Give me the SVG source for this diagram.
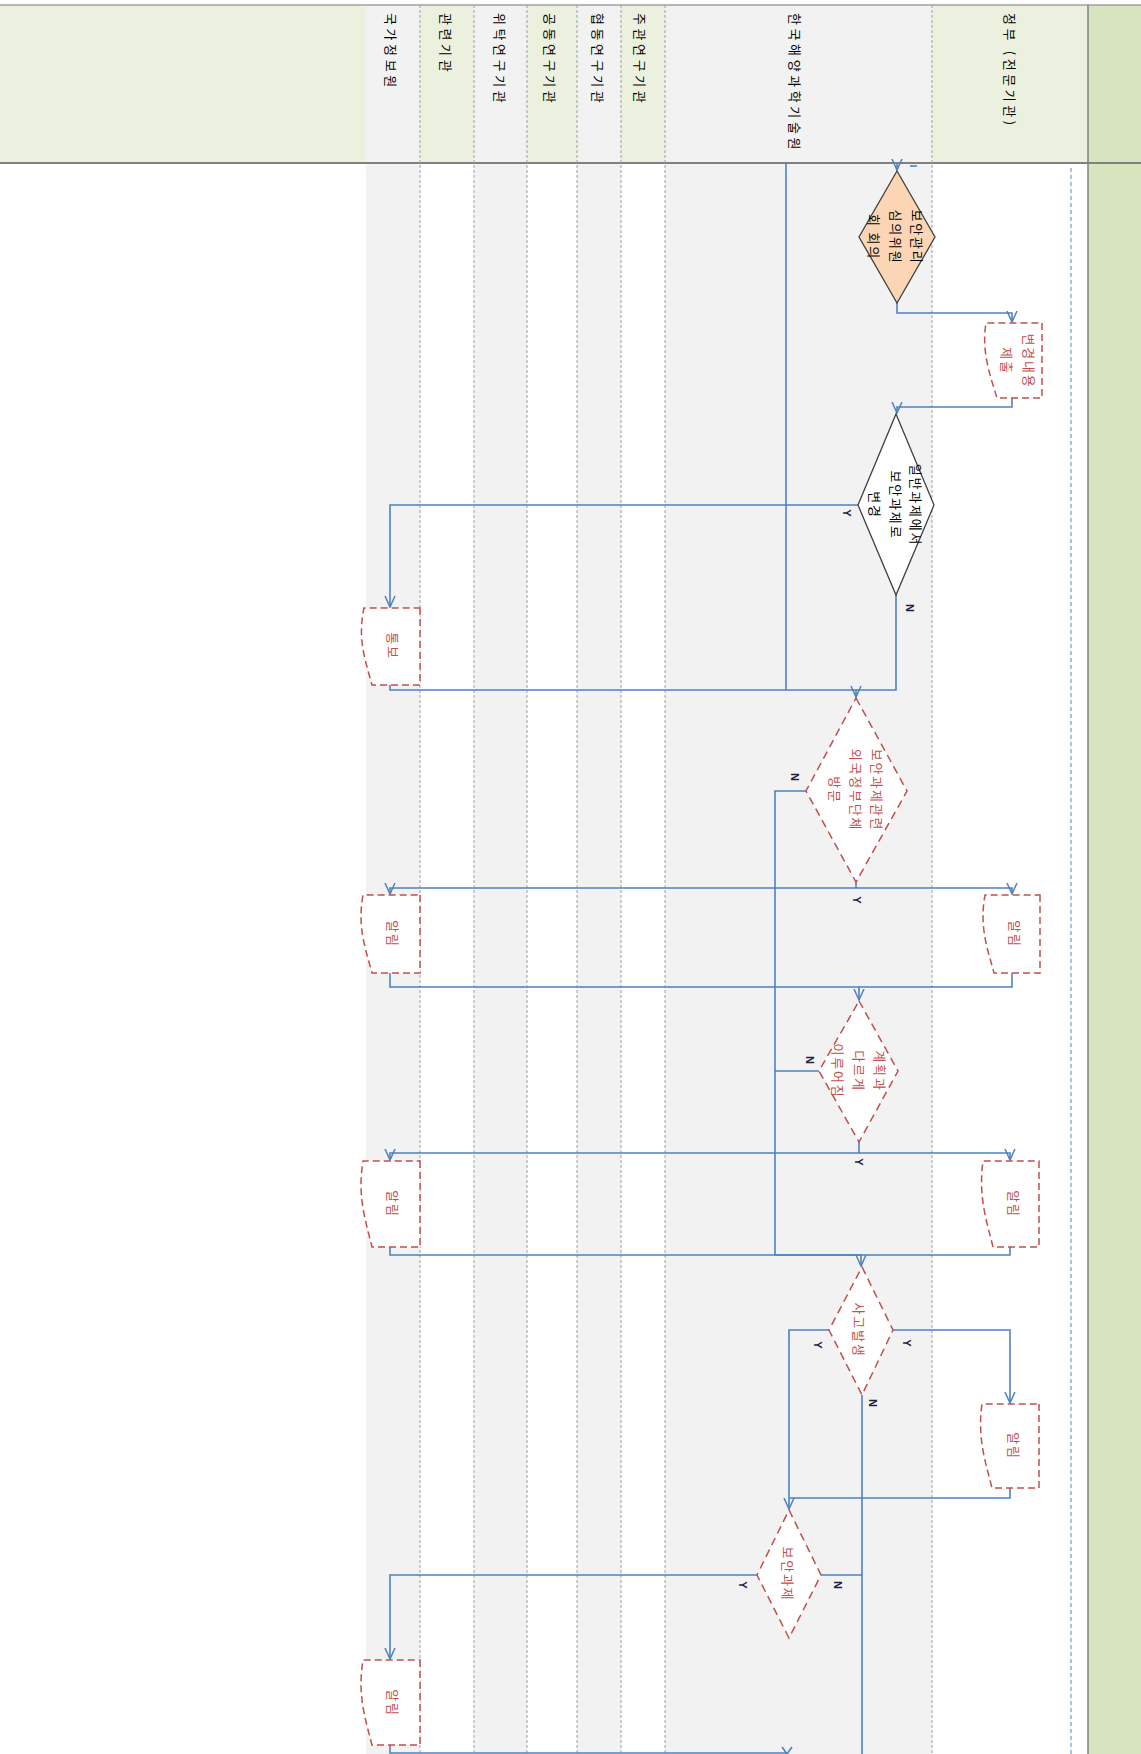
<svg xmlns="http://www.w3.org/2000/svg" width="1141" height="1754" viewBox="0 0 1141 1754">
<defs>
<style>
.lbl{font-family:"Noto Sans CJK KR","Noto Sans",sans-serif;font-size:13px;fill:#000;letter-spacing:3.6px}
.nt{font-family:"Noto Sans CJK KR","Noto Sans",sans-serif;font-size:13px;fill:#000;letter-spacing:1.8px}
.rt{font-family:"Noto Sans CJK KR","Noto Sans",sans-serif;font-size:13px;fill:#c0504d;letter-spacing:1.8px}
.yn{font-family:"Liberation Sans","DejaVu Sans",sans-serif;font-size:11px;font-weight:bold;fill:#1f1f3f}
.lane{stroke:#a0a0a0;stroke-width:1;stroke-dasharray:3,2;fill:none}
.con{fill:none;stroke:#4f81bd;stroke-width:1.6}
.rbox{fill:#fff;stroke:#c0504d;stroke-width:1.5;stroke-dasharray:7,4}
.rdia{fill:#fff;stroke:#c0504d;stroke-width:1.5;stroke-dasharray:8,5}
</style>
<marker id="ar" viewBox="0 0 12 12" refX="11" refY="6" markerWidth="12" markerHeight="12" markerUnits="userSpaceOnUse" orient="auto">
<path d="M0,1 L11,6 L0,11" fill="none" stroke="#4f81bd" stroke-width="1.5"/>
</marker>
</defs>

<g id="background">
<rect x="0" y="0" width="1141" height="1754" fill="#fff"/>
<rect x="0" y="5" width="366" height="158" fill="#ebf1de"/>
<rect x="366" y="5" width="54" height="1749" fill="#f2f2f2"/>
<rect x="420" y="5" width="54" height="158" fill="#ebf1de"/>
<rect x="474" y="5" width="53" height="1749" fill="#f2f2f2"/>
<rect x="527" y="5" width="50" height="158" fill="#ebf1de"/>
<rect x="577" y="5" width="44" height="1749" fill="#f2f2f2"/>
<rect x="621" y="5" width="44" height="158" fill="#ebf1de"/>
<rect x="665" y="5" width="267" height="1749" fill="#f2f2f2"/>
<rect x="932" y="5" width="156" height="158" fill="#ebf1de"/>
<rect x="1088" y="5" width="53" height="1749" fill="#d7e4bd"/>
<line x1="0" y1="5" x2="1141" y2="5" stroke="#a0a0a0" stroke-width="1.5"/>
<line x1="0" y1="163" x2="1141" y2="163" stroke="#808080" stroke-width="2"/>
<line x1="1088" y1="5" x2="1088" y2="1754" stroke="#808080" stroke-width="1.5"/>
<line class="lane" x1="420" y1="5" x2="420" y2="1754"/>
<line class="lane" x1="474" y1="5" x2="474" y2="1754"/>
<line class="lane" x1="527" y1="5" x2="527" y2="1754"/>
<line class="lane" x1="577" y1="5" x2="577" y2="1754"/>
<line class="lane" x1="621" y1="5" x2="621" y2="1754"/>
<line class="lane" x1="665" y1="5" x2="665" y2="1754"/>
<line class="lane" x1="932" y1="5" x2="932" y2="1754"/>
<line x1="1071" y1="168" x2="1071" y2="1754" stroke="#7f9fd0" stroke-width="1.3" stroke-dasharray="4,3"/>
</g>

<g id="lane-labels">
<text class="lbl" transform="translate(391,13) rotate(90)" dominant-baseline="central">국가정보원</text>
<text class="lbl" transform="translate(446,13) rotate(90)" dominant-baseline="central">관련기관</text>
<text class="lbl" transform="translate(500,13) rotate(90)" dominant-baseline="central">위탁연구기관</text>
<text class="lbl" transform="translate(550,13) rotate(90)" dominant-baseline="central">공동연구기관</text>
<text class="lbl" transform="translate(598,13) rotate(90)" dominant-baseline="central">협동연구기관</text>
<text class="lbl" transform="translate(640,13) rotate(90)" dominant-baseline="central">주관연구기관</text>
<text class="lbl" transform="translate(795,13) rotate(90)" dominant-baseline="central">한국해양과학기술원</text>
<text class="lbl" transform="translate(1010,13) rotate(90)" dominant-baseline="central">정부 (전문기관)</text>
</g>

<g id="connectors">
<path class="con" d="M897,164 V170" marker-end="url(#ar)"/>
<path class="con" d="M910,166 H917"/>
<path class="con" d="M897,303 V313 H1012 V322" marker-end="url(#ar)"/>
<path class="con" d="M1012,398 V407 H897 V413" marker-end="url(#ar)"/>
<path class="con" d="M858,505 H390 V607" marker-end="url(#ar)"/>
<path class="con" d="M390,685 V690 H856 V697" marker-end="url(#ar)"/>
<path class="con" d="M896,595 V690 H856"/>
<path class="con" d="M786,164 V690"/>
<path class="con" d="M806,791 H775 V1255 H861 V1266" marker-end="url(#ar)"/>
<path class="con" d="M856,882 V888 H390 V894" marker-end="url(#ar)"/>
<path class="con" d="M856,888 H1012 V894" marker-end="url(#ar)"/>
<path class="con" d="M390,973 V987 H859 V1000" marker-end="url(#ar)"/>
<path class="con" d="M1012,973 V987 H859"/>
<path class="con" d="M819,1071 H775"/>
<path class="con" d="M859,1142 V1153 H390 V1160" marker-end="url(#ar)"/>
<path class="con" d="M859,1153 H1010 V1160" marker-end="url(#ar)"/>
<path class="con" d="M390,1247 V1255 H861"/>
<path class="con" d="M1010,1247 V1255 H861"/>
<path class="con" d="M893,1330 H1010 V1403" marker-end="url(#ar)"/>
<path class="con" d="M829,1330 H789 V1509" marker-end="url(#ar)"/>
<path class="con" d="M1010,1488 V1498 H789"/>
<path class="con" d="M862,1395 V1754"/>
<path class="con" d="M821,1575 H862"/>
<path class="con" d="M757,1575 H390 V1659" marker-end="url(#ar)"/>
<path class="con" d="M390,1745 V1753 H787"/>
<polyline class="con" points="782,1747 787,1754 792,1747"/>
</g>

<g id="yn-labels">
<text class="yn" transform="translate(847,513) rotate(90)" text-anchor="middle" dominant-baseline="central">Y</text>
<text class="yn" transform="translate(910,608) rotate(90)" text-anchor="middle" dominant-baseline="central">N</text>
<text class="yn" transform="translate(795,777) rotate(90)" text-anchor="middle" dominant-baseline="central">N</text>
<text class="yn" transform="translate(857,900) rotate(90)" text-anchor="middle" dominant-baseline="central">Y</text>
<text class="yn" transform="translate(810,1060) rotate(90)" text-anchor="middle" dominant-baseline="central">N</text>
<text class="yn" transform="translate(859,1162) rotate(90)" text-anchor="middle" dominant-baseline="central">Y</text>
<text class="yn" transform="translate(818,1345) rotate(90)" text-anchor="middle" dominant-baseline="central">Y</text>
<text class="yn" transform="translate(907,1343) rotate(90)" text-anchor="middle" dominant-baseline="central">Y</text>
<text class="yn" transform="translate(873,1403) rotate(90)" text-anchor="middle" dominant-baseline="central">N</text>
<text class="yn" transform="translate(743,1585) rotate(90)" text-anchor="middle" dominant-baseline="central">Y</text>
<text class="yn" transform="translate(838,1585) rotate(90)" text-anchor="middle" dominant-baseline="central">N</text>
</g>

<g id="d1-committee">
<polygon points="897,171 935,237 897,303 859,237" fill="#fcd5b5" stroke="#404040" stroke-width="1.3"/>
<text class="nt" transform="translate(897,237) rotate(90)" text-anchor="middle" dominant-baseline="central"><tspan x="0" y="-21">보안관리</tspan><tspan x="0" y="0">심의위원</tspan><tspan x="0" y="22">회 회의</tspan></text>
</g>

<g id="b1-submit">
<path class="rbox" d="M1042,323 V398 H997 C991,378 981,352 986,323 Z"/>
<text class="rt" transform="translate(1019,361) rotate(90)" text-anchor="middle" dominant-baseline="central"><tspan x="0" y="-11">변경내용</tspan><tspan x="0" y="11">제출</tspan></text>
</g>

<g id="d2-change">
<polygon points="896,414 934,505 896,595 858,505" fill="#fff" stroke="#404040" stroke-width="1.3"/>
<text class="nt" transform="translate(897,505) rotate(90)" text-anchor="middle" dominant-baseline="central"><tspan x="0" y="-20">일반과제에서</tspan><tspan x="0" y="0">보안과제로</tspan><tspan x="0" y="21">변경</tspan></text>
</g>

<g id="b2-notify">
<path class="rbox" d="M420,608 V685 H372 C366,662 357,640 364,608 Z"/>
<text class="rt" transform="translate(393,646) rotate(90)" text-anchor="middle" dominant-baseline="central">통보</text>
</g>

<g id="d3-visit">
<polygon class="rdia" points="856,698 907,791 856,882 806,791"/>
<text class="rt" transform="translate(857,790) rotate(90)" text-anchor="middle" dominant-baseline="central"><tspan x="0" y="-21">보안과제관련</tspan><tspan x="0" y="0">외국정부단체</tspan><tspan x="0" y="21">방문</tspan></text>
</g>

<g id="b3-alert-l">
<path class="rbox" d="M420,895 V973 H372 C366,950 357,928 363,895 Z"/>
<text class="rt" transform="translate(393,934) rotate(90)" text-anchor="middle" dominant-baseline="central">알림</text>
</g>
<g id="b3-alert-r">
<path class="rbox" d="M1040,895 V973 H994 C988,950 979,928 985,895 Z"/>
<text class="rt" transform="translate(1015,934) rotate(90)" text-anchor="middle" dominant-baseline="central">알림</text>
</g>

<g id="d4-plan">
<polygon class="rdia" points="859,1001 898,1071 859,1142 819,1071"/>
<text class="rt" transform="translate(860,1071) rotate(90)" text-anchor="middle" dominant-baseline="central"><tspan x="0" y="-21">계획과</tspan><tspan x="0" y="0">다르게</tspan><tspan x="0" y="21">이루어짐</tspan></text>
</g>

<g id="b4-alert-l">
<path class="rbox" d="M420,1161 V1247 H372 C366,1222 357,1197 363,1161 Z"/>
<text class="rt" transform="translate(393,1204) rotate(90)" text-anchor="middle" dominant-baseline="central">알림</text>
</g>
<g id="b4-alert-r">
<path class="rbox" d="M1039,1161 V1247 H993 C987,1222 978,1197 983,1161 Z"/>
<text class="rt" transform="translate(1014,1204) rotate(90)" text-anchor="middle" dominant-baseline="central">알림</text>
</g>

<g id="d5-accident">
<polygon class="rdia" points="862,1267 893,1330 862,1395 829,1330"/>
<text class="rt" transform="translate(859,1330) rotate(90)" text-anchor="middle" dominant-baseline="central">사고발생</text>
</g>

<g id="b5-alert">
<path class="rbox" d="M1039,1404 V1488 H992 C986,1464 977,1438 982,1404 Z"/>
<text class="rt" transform="translate(1014,1446) rotate(90)" text-anchor="middle" dominant-baseline="central">알림</text>
</g>

<g id="d6-secure">
<polygon class="rdia" points="789,1510 821,1575 789,1638 757,1575"/>
<text class="rt" transform="translate(788,1574) rotate(90)" text-anchor="middle" dominant-baseline="central">보안과제</text>
</g>

<g id="b6-alert">
<path class="rbox" d="M420,1660 V1745 H372 C366,1721 357,1696 363,1660 Z"/>
<text class="rt" transform="translate(393,1703) rotate(90)" text-anchor="middle" dominant-baseline="central">알림</text>
</g>
</svg>
